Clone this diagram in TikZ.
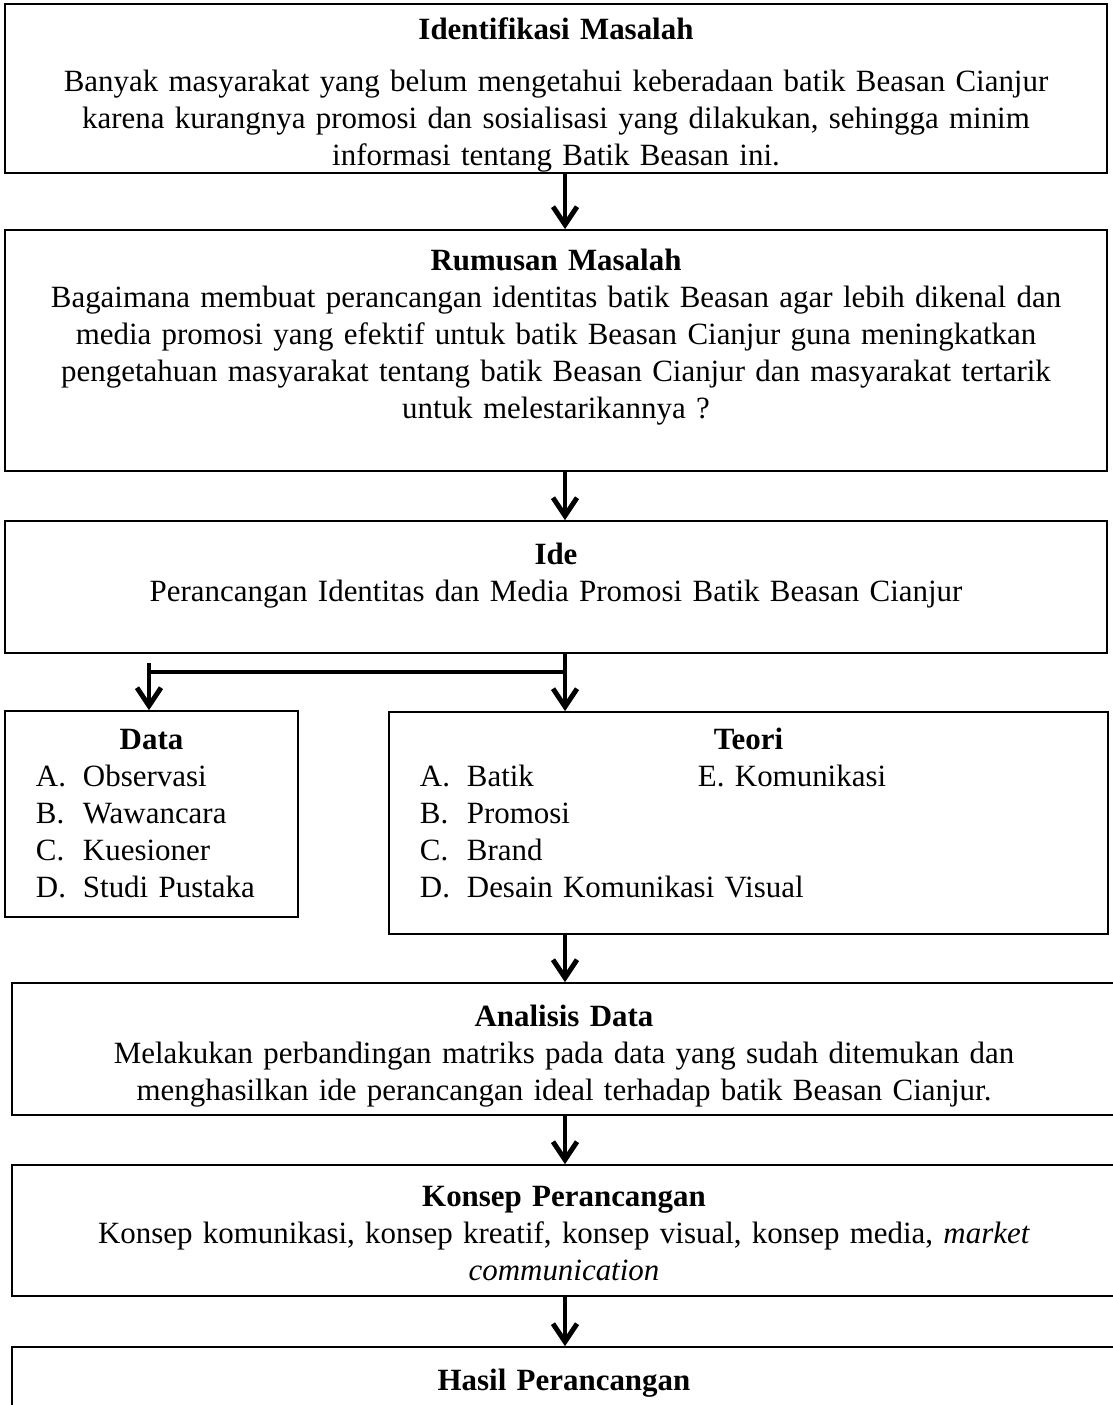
\documentclass[tikz,border=0pt]{standalone}
\usepackage{fontspec}
\setmainfont{Liberation Serif}
\usetikzlibrary{positioning, arrows.meta, calc}

\newcommand{\butir}[2]{\makebox[1.175cm][l]{#1}#2}

\begin{document}
\begin{tikzpicture}[
    x=0.025cm, y=-0.025cm,
    boxnode/.style={rectangle, draw=black, line width=1.2pt, inner xsep=0pt, inner ysep=0pt, align=center, font=\fontsize{22}{26.3}\selectfont},
    listnode/.style={boxnode, align=left, inner xsep=0.775cm},
    flow/.style={line width=3.5pt, -{Straight Barb[length=0.45cm, width=0.6cm]}}
]
\useasboundingbox (0,0) rectangle (1112,1405);

\node[boxnode, text width=27.55cm, minimum height=4.225cm](masalah) at (556, 88.5) {\rule{0pt}{0.875cm}\textbf{Identifikasi Masalah}\\[0.38cm]
Banyak masyarakat yang belum mengetahui keberadaan batik Beasan Cianjur\\
karena kurangnya promosi dan sosialisasi yang dilakukan, sehingga minim\\
informasi tentang Batik Beasan ini.};

\node[boxnode, text width=27.55cm, minimum height=6.025cm](rumusan) at (556, 350.5) {\textbf{Rumusan Masalah}\\
Bagaimana membuat perancangan identitas batik Beasan agar lebih dikenal dan\\
media promosi yang efektif untuk batik Beasan Cianjur guna meningkatkan\\
pengetahuan masyarakat tentang batik Beasan Cianjur dan masyarakat tertarik\\
untuk melestarikannya ?\rule[-0.85cm]{0pt}{0.85cm}};

\node[boxnode, text width=27.55cm, minimum height=3.3cm](ide) at (556, 587) {\textbf{Ide}\\
Perancangan Identitas dan Media Promosi Batik Beasan Cianjur\rule[-0.75cm]{0pt}{0.75cm}};

\node[listnode, text width=5.775cm, minimum height=5.15cm](data) at (151.5, 814) {\centerline{\textbf{Data}}
\butir{A.}{Observasi}\\
\butir{B.}{Wawancara}\\
\butir{C.}{Kuesioner}\\
\butir{D.}{Studi Pustaka}};

\node[listnode, text width=16.425cm, minimum height=5.55cm](teori) at (748.5, 823) {\centerline{\textbf{Teori}}
\makebox[6.95cm][l]{\butir{A.}{Batik}}E. Komunikasi\\
\butir{B.}{Promosi}\\
\butir{C.}{Brand}\\
\butir{D.}{Desain Komunikasi Visual}\rule[-0.5cm]{0pt}{0.5cm}};

\node[boxnode, text width=27.6cm, minimum height=3.3cm](analisis) at (564, 1049) {\rule{0pt}{0.875cm}\textbf{Analisis Data}\\
Melakukan perbandingan matriks pada data yang sudah ditemukan dan\\
menghasilkan ide perancangan ideal terhadap batik Beasan Cianjur.};

\node[boxnode, text width=27.6cm, minimum height=3.275cm](konsep) at (564, 1230.5) {\rule{0pt}{0.65cm}\textbf{Konsep Perancangan}\\
Konsep komunikasi, konsep kreatif, konsep visual, konsep media, \textit{market}\\
\textit{communication}};

\node[boxnode, text width=27.6cm, minimum height=1.8cm](hasil) at (564, 1383) {\textbf{Hasil Perancangan}};

% cabang ke data dan teori
\coordinate (cabang) at (149, 663);
\coordinate (kiri) at (149, 672);
\coordinate (kanan) at (565, 672);

\draw[flow] (masalah.south -| kanan) -- (rumusan.north -| kanan);
\draw[flow] (rumusan.south -| kanan) -- (ide.north -| kanan);
\draw[flow] (ide.south -| kanan) -- (teori.north -| kanan);
\draw[line width=3.5pt] (kiri) -- (kanan);
\draw[flow] (cabang) -- (data.north -| cabang);

\draw[flow] (teori.south -| kanan) -- (analisis.north -| kanan);
\draw[flow] (analisis.south -| kanan) -- (konsep.north -| kanan);
\draw[flow] (konsep.south -| kanan) -- (hasil.north -| kanan);
\end{tikzpicture}
\end{document}
